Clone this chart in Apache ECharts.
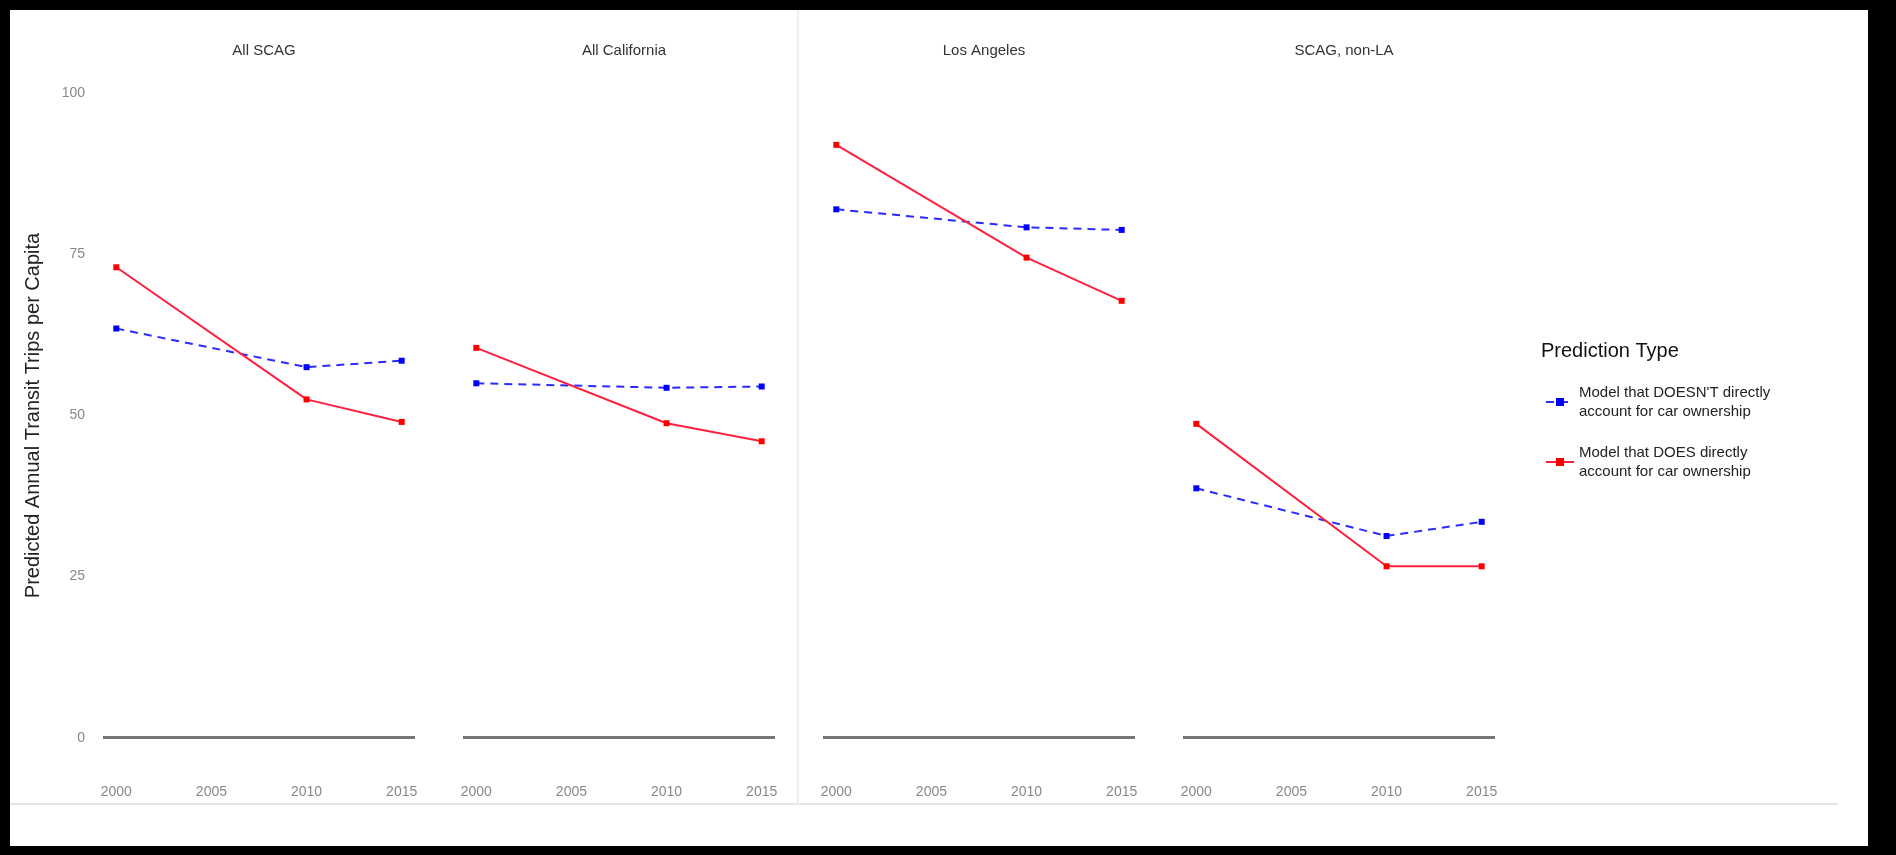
<!DOCTYPE html>
<html>
<head>
<meta charset="utf-8">
<script src="https://cdn.jsdelivr.net/npm/echarts@6/dist/echarts.min.js"></script>
<style>
  html, body { margin: 0; padding: 0; background: #000; }
  #chart { width: 1896px; height: 855px; }
</style>
</head>
<body>
<div id="chart"></div>
<script>
var years = [2000, 2010, 2015];
var xTicks = [2000, 2005, 2010, 2015];
var yTicks = [0, 25, 50, 75, 100];
var panels = ['All SCAG', 'All California', 'Los Angeles', 'SCAG, non-LA'];
var noCarValues = [
  [63.5, 57.5, 58.5],
  [55.0, 54.3, 54.5],
  [82.0, 79.2, 78.8],
  [38.7, 31.3, 33.5]
];
var carValues = [
  [73.0, 52.5, 49.0],
  [60.5, 48.8, 46.0],
  [92.0, 74.5, 67.8],
  [48.7, 26.6, 26.6]
];
var seriesNames = ["Model that DOESN'T directly\naccount for car ownership",
                   'Model that DOES directly\naccount for car ownership'];

var chart = echarts.init(document.getElementById('chart'));

var grids = [], xAxes = [], yAxes = [], series = [], titles = [];
var left0 = 103, pitch = 360, gw = 312;
panels.forEach(function (name, i) {
  var left = left0 + i * pitch;
  grids.push({ left: left, top: 74, width: gw, height: 683 });
  xAxes.push({
    type: 'value', gridIndex: i, min: 1999.3, max: 2015.7,
    axisLine: { show: false }, axisTick: { show: false },
    splitLine: { show: false },
    axisLabel: { customValues: xTicks, color: '#888', fontSize: 14, margin: 28,
                 formatter: function (v) { return String(v); },
                 fontFamily: 'Liberation Sans Narrow, Arial Narrow, sans-serif' }
  });
  yAxes.push({
    type: 'value', gridIndex: i, min: -3, max: 103,
    axisLine: { show: false }, axisTick: { show: false },
    splitLine: { show: false },
    axisLabel: { show: i === 0, customValues: yTicks, color: '#888', fontSize: 14, margin: 18 },
    name: i === 0 ? 'Predicted Annual Transit Trips per Capita' : '',
    nameLocation: 'middle', nameGap: 60,
    nameTextStyle: { color: '#222', fontSize: 20 }
  });
  titles.push({
    text: name, left: left + gw / 2, top: 38, textAlign: 'center',
    textStyle: { fontSize: 15, fontWeight: 'normal', color: '#333' }
  });
  series.push({
    name: seriesNames[0], type: 'line', xAxisIndex: i, yAxisIndex: i,
    data: years.map(function (y, k) { return [y, noCarValues[i][k]]; }),
    symbol: 'rect', symbolSize: 6, color: '#0000ff',
    lineStyle: { type: [8, 6], width: 2, color: '#2b2bff' },
    markLine: {
      silent: true, symbol: 'none', label: { show: false },
      lineStyle: { color: '#777', width: 3, type: 'solid' },
      data: [{ yAxis: 0 }]
    }
  });
  series.push({
    name: seriesNames[1], type: 'line', xAxisIndex: i, yAxisIndex: i,
    data: years.map(function (y, k) { return [y, carValues[i][k]]; }),
    symbol: 'rect', symbolSize: 6, color: '#ff0000',
    lineStyle: { type: 'solid', width: 2, color: '#ff2040' }
  });
});

titles.push({
  text: 'Prediction Type', left: 1536, top: 336,
  textStyle: { fontSize: 20, fontWeight: 'normal', color: '#111' }
});

chart.setOption({
  backgroundColor: '#fff',
  animation: false,
  title: titles,
  grid: grids,
  xAxis: xAxes,
  yAxis: yAxes,
  legend: {
    orient: 'vertical', left: 1540, top: 378, itemGap: 22,
    itemWidth: 28, itemHeight: 10,
    textStyle: { fontSize: 15, color: '#222', lineHeight: 19 },
    data: seriesNames
  },
  graphic: [
    { type: 'rect', shape: { x: 0, y: 0, width: 1896, height: 10 }, style: { fill: '#000' } },
    { type: 'rect', shape: { x: 0, y: 0, width: 10, height: 855 }, style: { fill: '#000' } },
    { type: 'rect', shape: { x: 1868, y: 0, width: 28, height: 855 }, style: { fill: '#000' } },
    { type: 'rect', shape: { x: 0, y: 846, width: 1896, height: 9 }, style: { fill: '#000' } },
    { type: 'line', shape: { x1: 10, y1: 804, x2: 1838, y2: 804 }, style: { stroke: '#e6e6e6', lineWidth: 2 } },
    { type: 'line', shape: { x1: 798, y1: 10, x2: 798, y2: 804 }, style: { stroke: '#eeeeee', lineWidth: 2 } }
  ],
  series: series
});
</script>
</body>
</html>
